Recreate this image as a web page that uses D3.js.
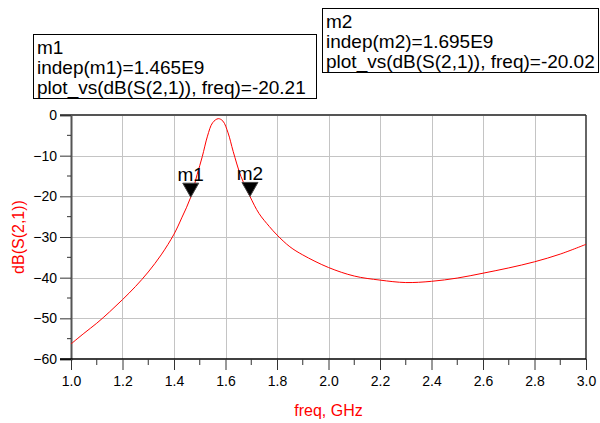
<!DOCTYPE html>
<html>
<head>
<meta charset="utf-8">
<script src="https://cdn.jsdelivr.net/npm/d3@7"></script>
<style>
  body { margin: 0; background: #fff; }
  text { font-family: "Liberation Sans", Arial, sans-serif; }
</style>
</head>
<body>
<svg id="chart"></svg>
<script>
// S21 response, freq in GHz
const freqs = [1.00, 1.05, 1.10, 1.15, 1.20, 1.25, 1.30, 1.35, 1.40, 1.43, 1.465,
  1.49, 1.51, 1.53, 1.55, 1.572, 1.59, 1.61, 1.63, 1.66, 1.695, 1.73, 1.77,
  1.80, 1.85, 1.90, 2.00, 2.10, 2.20, 2.30, 2.40, 2.50, 2.60, 2.70, 2.80, 2.90, 3.00];
const s21 = [-56.3, -53.7, -51.2, -48.4, -45.4, -42.2, -38.6, -34.4, -29.3, -25.3, -20.21,
  -14.6, -10.2, -5.2, -1.9, -0.9, -1.5, -4.4, -9.0, -15.1, -20.02, -24.2, -27.4,
  -29.5, -32.4, -34.4, -37.5, -39.6, -40.6, -41.2, -40.9, -40.1, -38.9, -37.6, -36.1, -34.2, -31.8];

const xTicks = [1.0, 1.2, 1.4, 1.6, 1.8, 2.0, 2.2, 2.4, 2.6, 2.8, 3.0];
const yTicks = [0, -10, -20, -30, -40, -50, -60];

const markerNames = ["m1", "m2"];
const markerFreq = [1.465, 1.695];
const markerVal = [-20.21, -20.02];
const markerIndep = ["1.465E9", "1.695E9"];

const width = 600, height = 423;
const svg = d3.select("#chart").attr("width", width).attr("height", height);

const x = d3.scaleLinear().domain([1, 3]).range([71, 586]);
const y = d3.scaleLinear().domain([-60, 0]).range([359, 115]);

// grid
const grid = svg.append("g").attr("stroke", "#c4c4c4").attr("stroke-width", 1);
grid.selectAll(".gx").data(xTicks.slice(1, -1)).join("line")
  .attr("x1", d => Math.round(x(d)) + 0.5).attr("x2", d => Math.round(x(d)) + 0.5)
  .attr("y1", y(0)).attr("y2", y(-60));
grid.selectAll(".gy").data(yTicks.slice(1, -1)).join("line")
  .attr("y1", d => Math.round(y(d)) + 0.5).attr("y2", d => Math.round(y(d)) + 0.5)
  .attr("x1", x(1)).attr("x2", x(3));

// frame top + right
svg.append("line").attr("x1", 60).attr("x2", x(3)).attr("y1", y(0)).attr("y2", y(0))
  .attr("stroke", "#555").attr("stroke-width", 2);
svg.append("line").attr("x1", x(3)).attr("x2", x(3)).attr("y1", y(0)).attr("y2", y(-60))
  .attr("stroke", "#333").attr("stroke-width", 1.5);

// axes
const yAxis = d3.axisLeft(y).tickValues(yTicks).tickSize(11).tickPadding(3).tickFormat(d3.format("d"));
const gy = svg.append("g").attr("transform", `translate(${x(1)},0)`).call(yAxis);
gy.select(".domain").attr("stroke", "#555").attr("stroke-width", 2);
gy.selectAll(".tick line").attr("stroke", "#333");
gy.selectAll("text").attr("font-size", 14).attr("fill", "#000")
  .attr("font-family", "Liberation Sans, Arial, sans-serif");
gy.selectAll(".minor").data(d3.range(-55, 0, 10)).join("line")
  .attr("x1", -4).attr("x2", 0).attr("y1", d => y(d)).attr("y2", d => y(d))
  .attr("stroke", "#333");

const xAxis = d3.axisBottom(x).tickValues(xTicks).tickSize(11).tickPadding(6).tickFormat(d3.format(".1f"));
const gx = svg.append("g").attr("transform", `translate(0,${y(-60)})`).call(xAxis);
gx.select(".domain").attr("stroke", "#000").attr("stroke-width", 1.5)
  .attr("d", `M${x(1) - 11},0H${x(3)}`);
gx.selectAll(".tick line").attr("stroke", "#333");
gx.selectAll("text").attr("font-size", 14).attr("fill", "#000")
  .attr("font-family", "Liberation Sans, Arial, sans-serif");
gx.selectAll(".minor").data(d3.range(1.1, 3, 0.2)).join("line")
  .attr("x1", d => x(d)).attr("x2", d => x(d)).attr("y1", 0).attr("y2", 6)
  .attr("stroke", "#333");

// axis titles
svg.append("text").attr("transform", `translate(24,${(y(0) + y(-60)) / 2}) rotate(-90)`)
  .attr("text-anchor", "middle").attr("font-size", 16).attr("fill", "#ff0000")
  .text("dB(S(2,1))");
svg.append("text").attr("x", (x(1) + x(3)) / 2).attr("y", 416)
  .attr("text-anchor", "middle").attr("font-size", 16).attr("fill", "#ff0000")
  .text("freq, GHz");

// curve
const pts = freqs.map((f, i) => [f, s21[i]]);
const line = d3.line().x(d => x(d[0])).y(d => y(d[1])).curve(d3.curveCatmullRom.alpha(0.5));
svg.append("path").datum(pts).attr("d", line)
  .attr("fill", "none").attr("stroke", "#ff0000").attr("stroke-width", 1);

// markers
const mk = svg.append("g").selectAll("g").data(markerNames).join("g")
  .attr("transform", (d, i) => `translate(${x(markerFreq[i])},${y(markerVal[i])})`);
mk.append("path").attr("d", "M-8,-14L8,-14L0,0Z").attr("fill", "#000").attr("stroke", "#444");
mk.append("text").attr("y", -16).attr("text-anchor", "middle").attr("font-size", 19)
  .attr("fill", "#000").text(d => d);

// readout boxes
const boxes = [
  { x: 33, y: 34, w: 283, h: 64 },
  { x: 322, y: 8, w: 276, h: 64 }
];
markerNames.forEach((m, i) => {
  const b = boxes[i];
  svg.append("clipPath").attr("id", "clip" + i).append("rect")
    .attr("x", b.x).attr("y", b.y).attr("width", b.w).attr("height", b.h);
  svg.append("rect").attr("x", b.x + 0.5).attr("y", b.y + 0.5).attr("width", b.w).attr("height", b.h)
    .attr("fill", "#fff").attr("stroke", "#000").attr("stroke-width", 1);
  const lines = [m, `indep(${m})=${markerIndep[i]}`, `plot_vs(dB(S(2,1)), freq)=${markerVal[i].toFixed(2)}`];
  svg.append("g").attr("clip-path", `url(#clip${i})`)
    .selectAll("text").data(lines).join("text")
    .attr("x", b.x + 4).attr("y", (d, j) => b.y + 20 + j * 20)
    .attr("font-size", 19).attr("fill", "#000").text(d => d);
});
</script>
</body>
</html>
